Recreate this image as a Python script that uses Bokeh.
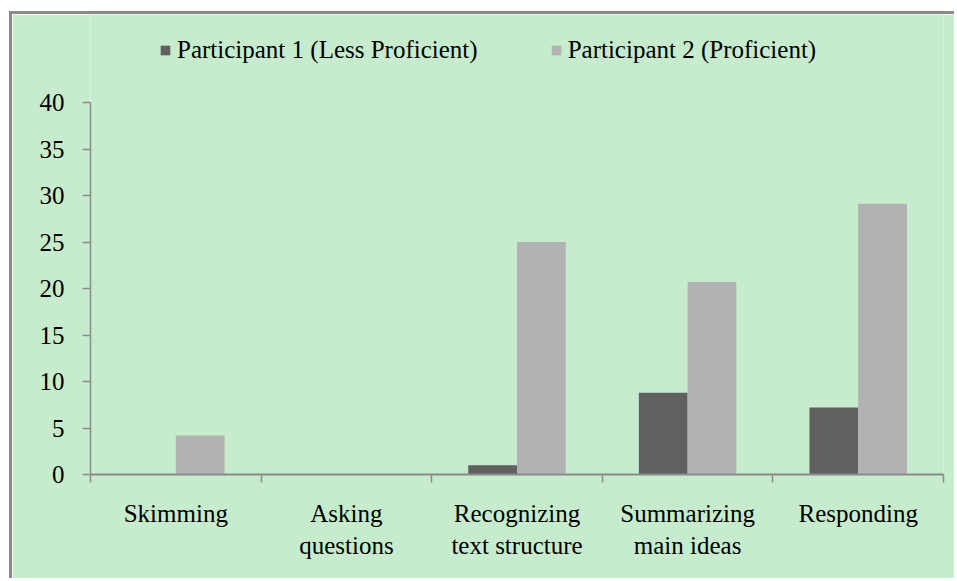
from bokeh.plotting import figure
from bokeh.models import ColumnDataSource, FixedTicker, Legend, LegendItem, Range1d
from bokeh.embed import file_html
from bokeh.resources import INLINE

# ---- data ----
categories = ["Skimming", "Asking\nquestions", "Recognizing\ntext structure",
              "Summarizing\nmain ideas", "Responding"]
series_names = ["Participant 1 (Less Proficient)", "Participant 2 (Proficient)"]
participant1 = [0, 0, 1.0, 8.8, 7.2]
participant2 = [4.2, 0, 25.0, 20.7, 29.1]
y_ticks = [0, 5, 10, 15, 20, 25, 30, 35, 40]
y_max = 40

# ---- style / layout ----
BG = "#c6eccd"
DARK = "#606060"
LIGHT = "#b2b2b2"
AXIS = "#8a8a8a"
FONT = "Liberation Serif"
FS = "25px"

W, H = 945, 567
MB_TOP, MB_BOTTOM = 0, 107
frame_h = H - MB_TOP - MB_BOTTOM          # plot frame height in px
axis_h = 372                               # px between 0 and 40
y_end = y_max * frame_h / axis_h           # leave room above 40 for the legend

n = len(categories)
bar_w = 1 / 3.5
idx = list(range(n))
src = ColumnDataSource(dict(
    x1=[i + 0.5 - bar_w / 2 for i in idx],
    x2=[i + 0.5 + bar_w / 2 for i in idx],
    p1=participant1,
    p2=participant2,
))

p = figure(width=W, height=H, output_backend="svg", toolbar_location=None,
           x_range=Range1d(0, n), y_range=Range1d(0, y_end),
           min_border_left=78, min_border_right=14, min_border_top=MB_TOP,
           min_border_bottom=MB_BOTTOM)
p.styles = {"border-top": f"3px solid {AXIS}", "border-left": f"3px solid {AXIS}",
            "margin-top": "11px", "margin-left": "9px"}
p.background_fill_color = BG
p.border_fill_color = BG
p.outline_line_color = None
p.xgrid.grid_line_color = None
p.ygrid.grid_line_color = None

r1 = p.vbar(x="x1", top="p1", bottom=0, width=bar_w, source=src, fill_color=DARK, line_color=None)
r2 = p.vbar(x="x2", top="p2", bottom=0, width=bar_w, source=src, fill_color=LIGHT, line_color=None)

# x axis: labels at category centres, ticks at category boundaries
xa = p.xaxis[0]
xa.ticker = FixedTicker(ticks=[i + 0.5 for i in idx], minor_ticks=list(range(n + 1)))
xa.major_label_overrides = {i + 0.5: c for i, c in enumerate(categories)}
xa.major_tick_line_color = None
xa.major_tick_out = 0
xa.major_tick_in = 0
xa.minor_tick_line_color = AXIS
xa.minor_tick_out = 8
xa.minor_tick_in = 0
xa.minor_tick_line_width = 1.5
xa.axis_line_color = AXIS
xa.axis_line_width = 2
xa.major_label_standoff = 17
xa.major_label_text_font = FONT
xa.major_label_text_font_size = FS
xa.major_label_text_color = "black"
xa.major_label_text_line_height = 1.2

ya = p.yaxis[0]
ya.ticker = FixedTicker(ticks=y_ticks)
ya.bounds = (0, y_max)
ya.minor_tick_line_color = None
ya.major_tick_out = 8
ya.major_tick_in = 0
ya.major_tick_line_color = AXIS
ya.major_tick_line_width = 1.5
ya.axis_line_color = AXIS
ya.axis_line_width = 1.5
ya.major_label_standoff = 18
ya.major_label_text_font = FONT
ya.major_label_text_font_size = FS
ya.major_label_text_color = "black"

legend = Legend(items=[LegendItem(label=series_names[0], renderers=[r1]),
                       LegendItem(label=series_names[1], renderers=[r2])],
                orientation="horizontal", location=(69, 410),
                background_fill_alpha=0, border_line_color=None,
                label_text_font=FONT, label_text_font_size=FS, label_text_color="black",
                glyph_width=12, glyph_height=12, label_standoff=6, spacing=72,
                padding=0, margin=0)
p.add_layout(legend)

open("out.html", "w").write(file_html(p, INLINE))
